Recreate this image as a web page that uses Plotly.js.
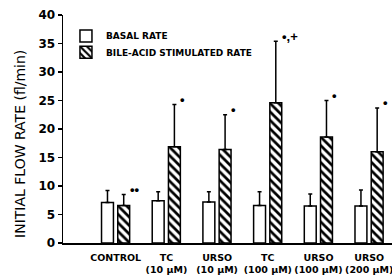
<!DOCTYPE html>
<html>
<head>
<meta charset="utf-8">
<script src="https://cdn.plot.ly/plotly-3.0.1.min.js"></script>
<style>html,body{margin:0;padding:0;background:#fff}#chart{width:392px;height:278px}</style>
</head>
<body>
<div id="chart"></div>
<script>
// Data
const categories = ['', 'CONTROL', 'TC<br>(10 \u00b5M)', 'URSO<br>(10 \u00b5M)', 'TC<br>(100 \u00b5M)', 'URSO<br>(100 \u00b5M)', 'URSO<br>(200 \u00b5M)'];
const basalRate = [null, 7.1, 7.4, 7.2, 6.6, 6.5, 6.5];
const basalErr = [null, 2.1, 1.6, 1.8, 2.4, 2.1, 2.8];
const stimRate = [null, 6.6, 16.9, 16.4, 24.6, 18.6, 16.0];
const stimErr = [null, 1.9, 7.4, 6.1, 10.8, 6.4, 7.7];
const sigMarks = ['', '\u2022\u2022', '\u2022', '\u2022', '\u2022,+', '\u2022', '\u2022'];
const seriesNames = ['BASAL RATE', 'BILE-ACID STIMULATED RATE'];
const yTitle = 'INITIAL FLOW RATE (fl/min)';

const FONT = 'DejaVu Sans, Verdana, sans-serif';
const MARKFONT = 'Liberation Sans, Arial, sans-serif';
const barW = 0.235;

const traces = [
  {
    type: 'bar', name: seriesNames[0], x: categories, y: basalRate, legend: 'legend',
    width: barW, offset: -0.28,
    marker: {color: '#ffffff', line: {color: '#000', width: 1.5}},
    error_y: {type: 'data', symmetric: false, array: basalErr, arrayminus: basalErr.map(() => 0),
              color: '#000', thickness: 1.5, width: 2}
  },
  {
    type: 'bar', name: seriesNames[1], x: categories, y: stimRate, legend: 'legend2',
    width: barW, offset: 0.04,
    marker: {color: '#ffffff', line: {color: '#000', width: 1.5},
             pattern: {shape: '\\', fgcolor: '#000', bgcolor: '#fff', size: 6, solidity: 0.45}},
    error_y: {type: 'data', symmetric: false, array: stimErr, arrayminus: stimErr.map(() => 0),
              color: '#000', thickness: 1.5, width: 2}
  }
];

const annotations = [];
categories.forEach((c, i) => {
  if (!sigMarks[i]) return;
  annotations.push({
    x: c, y: stimRate[i] + stimErr[i], xref: 'x', yref: 'y',
    text: sigMarks[i], showarrow: false, xanchor: 'left', yanchor: 'middle',
    xshift: 12, yshift: 5,
    font: {family: MARKFONT, size: 13, color: '#000', weight: 'bold'}
  });
});
annotations.push({
  x: -0.131, y: 0.434, xref: 'paper', yref: 'paper', text: yTitle, textangle: -90,
  showarrow: false, xanchor: 'center', yanchor: 'middle',
  font: {family: FONT, size: 14, color: '#000'}
});

const legFont = {family: FONT, size: 9, color: '#000', weight: 'bold'};
const layout = {
  width: 392, height: 278,
  margin: {l: 63, r: 0, t: 15, b: 35},
  paper_bgcolor: '#fff', plot_bgcolor: '#fff',
  barmode: 'overlay',
  showlegend: true,
  legend: {x: 0.009, y: 0.972, xanchor: 'left', yanchor: 'top', bgcolor: 'rgba(0,0,0,0)', font: legFont},
  legend2: {x: 0.009, y: 0.9, xanchor: 'left', yanchor: 'top', bgcolor: 'rgba(0,0,0,0)', font: legFont},
  xaxis: {
    type: 'category', range: [-0.04, 6.45], showgrid: false, zeroline: false,
    showline: true, linecolor: '#000', linewidth: 1.5, ticks: '', ticklabelstandoff: 5,
    tickfont: {family: FONT, size: 9.5, color: '#000', weight: 'bold'},
    fixedrange: true
  },
  yaxis: {
    range: [0, 40], tickvals: [0, 5, 10, 15, 20, 25, 30, 35, 40],
    showgrid: false, zeroline: false, showline: true, linecolor: '#000', linewidth: 1.5,
    ticks: 'outside', ticklen: 4, tickwidth: 1.5, tickcolor: '#000',
    tickfont: {family: FONT, size: 12, color: '#000', weight: 'bold'}
  },
  annotations: annotations
};

Plotly.newPlot('chart', traces, layout, {staticPlot: true, displayModeBar: false});
</script>
</body>
</html>
